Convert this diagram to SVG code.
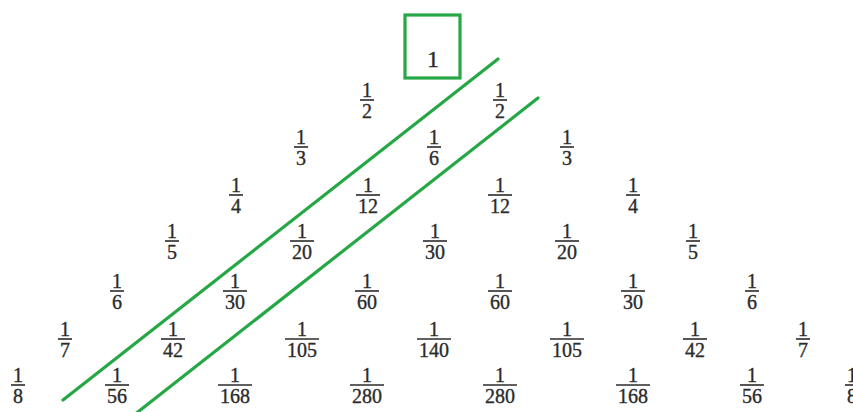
<svg xmlns="http://www.w3.org/2000/svg" width="853" height="412" viewBox="0 0 853 412">
<style>
text{font-family:"Liberation Serif","DejaVu Serif",serif;font-size:20px;fill:#2b2b2b;stroke:#2b2b2b;stroke-width:0.35;text-anchor:middle}
.bar{stroke:#2b2b2b;stroke-width:1.6}
.g{stroke:#25a745;stroke-width:3.2;fill:none;stroke-linecap:round}
</style>
<defs>
<line id="b1" class="bar" x1="-7" x2="7" y1="0" y2="0"/>
<line id="b2" class="bar" x1="-12" x2="12" y1="0" y2="0"/>
<line id="b3" class="bar" x1="-17" x2="17" y1="0" y2="0"/>
</defs>
<rect width="853" height="412" fill="#fff"/>
<g id="top"><rect class="g" x="405" y="15" width="55" height="63" stroke-linecap="butt"/><text x="433" y="67" style="font-size:24px">1</text></g>
<g id="r1">
<g id="n1-0" transform="translate(367,100)"><text y="-3.5">1</text><use href="#b1"/><text y="17.5">2</text></g>
<g id="n1-1" transform="translate(500,100)"><text y="-3.5">1</text><use href="#b1"/><text y="17.5">2</text></g>
</g>
<g id="r2">
<g id="n2-0" transform="translate(301,147)"><text y="-3.5">1</text><use href="#b1"/><text y="17.5">3</text></g>
<g id="n2-1" transform="translate(434,147)"><text y="-3.5">1</text><use href="#b1"/><text y="17.5">6</text></g>
<g id="n2-2" transform="translate(567,147)"><text y="-3.5">1</text><use href="#b1"/><text y="17.5">3</text></g>
</g>
<g id="r3">
<g id="n3-0" transform="translate(236,195)"><text y="-3.5">1</text><use href="#b1"/><text y="17.5">4</text></g>
<g id="n3-1" transform="translate(368,195)"><text y="-3.5">1</text><use href="#b2"/><text y="17.5">12</text></g>
<g id="n3-2" transform="translate(500,195)"><text y="-3.5">1</text><use href="#b2"/><text y="17.5">12</text></g>
<g id="n3-3" transform="translate(633,195)"><text y="-3.5">1</text><use href="#b1"/><text y="17.5">4</text></g>
</g>
<g id="r4">
<g id="n4-0" transform="translate(172,241)"><text y="-3.5">1</text><use href="#b1"/><text y="17.5">5</text></g>
<g id="n4-1" transform="translate(302,241)"><text y="-3.5">1</text><use href="#b2"/><text y="17.5">20</text></g>
<g id="n4-2" transform="translate(435,241)"><text y="-3.5">1</text><use href="#b2"/><text y="17.5">30</text></g>
<g id="n4-3" transform="translate(567,241)"><text y="-3.5">1</text><use href="#b2"/><text y="17.5">20</text></g>
<g id="n4-4" transform="translate(693,241)"><text y="-3.5">1</text><use href="#b1"/><text y="17.5">5</text></g>
</g>
<g id="r5">
<g id="n5-0" transform="translate(117,291)"><text y="-3.5">1</text><use href="#b1"/><text y="17.5">6</text></g>
<g id="n5-1" transform="translate(235,291)"><text y="-3.5">1</text><use href="#b2"/><text y="17.5">30</text></g>
<g id="n5-2" transform="translate(367,291)"><text y="-3.5">1</text><use href="#b2"/><text y="17.5">60</text></g>
<g id="n5-3" transform="translate(500,291)"><text y="-3.5">1</text><use href="#b2"/><text y="17.5">60</text></g>
<g id="n5-4" transform="translate(633,291)"><text y="-3.5">1</text><use href="#b2"/><text y="17.5">30</text></g>
<g id="n5-5" transform="translate(752,291)"><text y="-3.5">1</text><use href="#b1"/><text y="17.5">6</text></g>
</g>
<g id="r6">
<g id="n6-0" transform="translate(65,339)"><text y="-3.5">1</text><use href="#b1"/><text y="17.5">7</text></g>
<g id="n6-1" transform="translate(173,339)"><text y="-3.5">1</text><use href="#b2"/><text y="17.5">42</text></g>
<g id="n6-2" transform="translate(302,339)"><text y="-3.5">1</text><use href="#b3"/><text y="17.5">105</text></g>
<g id="n6-3" transform="translate(434,339)"><text y="-3.5">1</text><use href="#b3"/><text y="17.5">140</text></g>
<g id="n6-4" transform="translate(567,339)"><text y="-3.5">1</text><use href="#b3"/><text y="17.5">105</text></g>
<g id="n6-5" transform="translate(695,339)"><text y="-3.5">1</text><use href="#b2"/><text y="17.5">42</text></g>
<g id="n6-6" transform="translate(803,339)"><text y="-3.5">1</text><use href="#b1"/><text y="17.5">7</text></g>
</g>
<g id="r7">
<g id="n7-0" transform="translate(18,385)"><text y="-3.5">1</text><use href="#b1"/><text y="17.5">8</text></g>
<g id="n7-1" transform="translate(117,385)"><text y="-3.5">1</text><use href="#b2"/><text y="17.5">56</text></g>
<g id="n7-2" transform="translate(235,385)"><text y="-3.5">1</text><use href="#b3"/><text y="17.5">168</text></g>
<g id="n7-3" transform="translate(367,385)"><text y="-3.5">1</text><use href="#b3"/><text y="17.5">280</text></g>
<g id="n7-4" transform="translate(500,385)"><text y="-3.5">1</text><use href="#b3"/><text y="17.5">280</text></g>
<g id="n7-5" transform="translate(633,385)"><text y="-3.5">1</text><use href="#b3"/><text y="17.5">168</text></g>
<g id="n7-6" transform="translate(752,385)"><text y="-3.5">1</text><use href="#b2"/><text y="17.5">56</text></g>
<g id="n7-7" transform="translate(852,385)"><text y="-3.5">1</text><use href="#b1"/><text y="17.5">8</text></g>
</g>
<g id="connectors">
<line class="g" x1="498" y1="59" x2="63" y2="400"/>
<line class="g" x1="538" y1="98" x2="134" y2="415"/>
</g>
</svg>
